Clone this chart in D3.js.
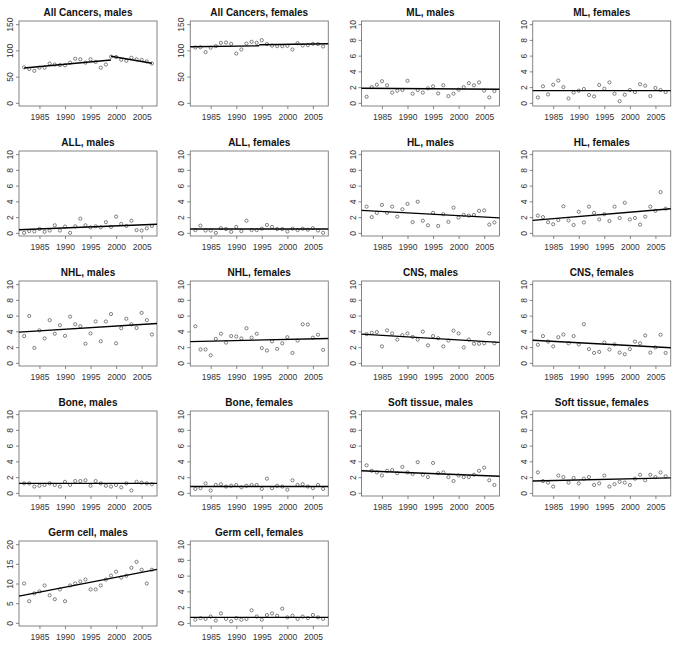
<!DOCTYPE html>
<html>
<head>
  <script src="https://cdnjs.cloudflare.com/ajax/libs/d3/7.8.5/d3.min.js"></script>
  <style>
    body { margin: 0; background: #fff; }
    svg { font-family: "Liberation Sans", Arial, sans-serif; }
    .title { font-size: 10px; font-weight: bold; text-anchor: middle; fill: #111; }
    .tick text { font-size: 8.5px; fill: #333; }
    .tick line { stroke: #555; stroke-width: 0.7; }
    .frame { fill: none; stroke: #666; stroke-width: 0.8; }
    .pt { fill: none; stroke: #333; stroke-width: 0.6; }
    .fit { stroke: #000; stroke-width: 1.4; fill: none; }
  </style>
</head>
<body>
  <div id="chart"></div>

  <script>
    // Years on the x axis
    const years = [1982, 1983, 1984, 1985, 1986, 1987, 1988, 1989, 1990, 1991, 1992, 1993, 1994,
                   1995, 1996, 1997, 1998, 1999, 2000, 2001, 2002, 2003, 2004, 2005, 2006, 2007];
    const xTicks = [1985, 1990, 1995, 2000, 2005];
    const yTicks150 = [0, 50, 100, 150];
    const yTicks10 = [0, 2, 4, 6, 8, 10];
    const yTicks20 = [0, 5, 10, 15, 20];

    // Rates per year
    const allCancersMales = [67.6, 64.5, 61, 67, 67, 75, 73, 72, 71.5, 76.6, 84, 83, 76.6,
                             83, 78, 67, 73, 88, 87.4, 82, 80, 86, 83, 82, 79, 75];
    const allCancersFemales = [105.5, 106, 96.6, 105, 108, 114.4, 115, 112.5, 94, 101.7, 113, 116.3, 114.4,
                               119.5, 112, 109, 108, 108, 108.7, 101.7, 113.8, 109.3, 110, 112.5, 112, 107.4];
    const mlMales = [0.77, 2.0, 2.3, 2.75, 2.23, 1.3, 1.55, 1.63, 2.8, 1.16, 1.63, 1.3, 1.85,
                     2.1, 1.2, 2.23, 0.86, 1.16, 1.67, 2.0, 2.5, 2.23, 2.6, 1.55, 0.69, 1.5];
    const mlFemales = [0.69, 2.1, 1.07, 2.3, 2.83, 2.0, 0.56, 1.3, 1.55, 1.76, 1.0, 0.82, 2.27,
                       1.8, 2.6, 1.16, 0.21, 1.03, 1.63, 1.37, 2.36, 2.19, 0.86, 1.9, 1.63, 1.37];
    const allMales = [0, 0.22, 0.18, 0.5, 0.13, 0.3, 0.96, 0.3, 0.8, 0, 0.83, 1.8, 0.96,
                      0.7, 0.83, 0.7, 1.36, 0.75, 2.06, 1.14, 0.88, 1.54, 0.35, 0.3, 0.57, 0.88];
    const allFemales = [0.35, 0.92, 0.3, 0.3, 0, 0.6, 0.48, 0.13, 0.75, 0.22, 1.54, 0.35, 0.35,
                        0.53, 1.0, 0.75, 0.48, 0.48, 0.18, 0.53, 0.35, 0.53, 0.4, 0.6, 0.3, 0];
    const hlMales = [3.33, 2.0, 2.54, 3.55, 2.54, 3.33, 2.06, 3.0, 3.68, 1.36, 3.95, 1.54, 0.96,
                     2.54, 0.88, 2.37, 1.4, 3.2, 1.93, 2.28, 2.19, 2.28, 2.8, 2.85, 1.05, 1.32];
    const hlFemales = [2.19, 2.0, 1.36, 1.1, 1.62, 3.38, 1.58, 1.0, 2.68, 1.32, 3.33, 2.54, 1.7,
                       2.37, 1.5, 3.33, 1.89, 3.82, 1.7, 1.89, 1.05, 2.06, 3.33, 2.8, 5.18, 3.07];
    const nhlMales = [3.4, 5.96, 1.9, 4.13, 3.1, 5.43, 3.7, 4.78, 3.43, 5.87, 4.9, 4.65, 2.43,
                      3.74, 5.26, 2.74, 5.26, 6.2, 2.48, 4.4, 5.6, 4.9, 4.43, 6.35, 5.43, 3.6];
    const nhlFemales = [4.65, 1.7, 1.7, 0.96, 3.04, 3.7, 2.57, 3.4, 3.35, 3.1, 4.4, 3.2, 3.7,
                        1.87, 1.57, 2.74, 1.78, 2.48, 3.26, 1.26, 2.83, 4.9, 4.87, 3.2, 3.57, 1.65];
    const cnsMales = [3.65, 3.83, 3.91, 2.09, 4.13, 3.74, 2.96, 3.52, 3.74, 3.3, 2.96, 3.96, 2.22,
                      3.4, 3.13, 2.09, 2.83, 4.09, 3.74, 1.96, 2.96, 2.43, 2.43, 2.48, 3.74, 2.48];
    const cnsFemales = [2.3, 3.4, 2.7, 2.09, 3.26, 3.6, 2.48, 3.4, 2.35, 4.9, 1.74, 1.26, 1.39,
                        2.57, 1.7, 2.35, 1.3, 1.09, 1.74, 2.7, 2.48, 3.48, 1.3, 1.96, 3.57, 1.26];
    const boneMales = [1.2, 1.2, 0.8, 0.9, 1.0, 1.2, 1.0, 0.8, 1.4, 1.0, 1.5, 1.5, 1.6,
                       0.9, 1.5, 1.2, 0.9, 0.8, 1.0, 0.7, 1.2, 0.3, 1.4, 1.3, 1.2, 1.1];
    const boneFemales = [0.5, 0.6, 1.2, 0.3, 1.0, 1.1, 0.8, 0.9, 1.0, 0.7, 0.9, 1.0, 1.0,
                         0.5, 1.8, 0.6, 0.9, 0.8, 0.4, 1.6, 1.0, 1.1, 0.8, 0.6, 1.0, 0.5];
    const softMales = [3.5, 2.8, 2.6, 2.2, 2.8, 2.9, 2.5, 3.3, 2.6, 2.4, 3.9, 2.3, 2.0,
                       3.8, 2.5, 2.6, 2.0, 1.5, 2.2, 2.0, 2.0, 2.3, 2.8, 3.2, 1.6, 1.0];
    const softFemales = [2.6, 1.5, 1.3, 0.8, 2.2, 2.0, 1.3, 1.9, 1.2, 1.8, 2.0, 1.0, 1.2,
                         2.2, 0.8, 1.1, 1.4, 1.3, 1.0, 1.8, 2.3, 1.6, 2.3, 2.0, 2.6, 2.1];
    const germMales = [10, 5.5, 7.5, 8, 9.5, 7, 6, 8.5, 5.5, 9.5, 10, 10.5, 11,
                       8.5, 8.5, 9.5, 11, 12, 13, 11.5, 12, 14, 15.5, 13.5, 10, 13.5];
    const germFemales = [0.4, 0.6, 0.5, 0.8, 0.3, 1.2, 0.5, 0.2, 0.6, 0.4, 0.5, 1.6, 0.8,
                         0.4, 1.0, 1.2, 0.9, 1.8, 0.7, 0.9, 0.5, 0.8, 0.6, 1.0, 0.7, 0.5];

    // Fitted trend segments: [year0, value0, year1, value1]
    const allCancersMalesFit = [[1982, 66.4, 1999, 81.7], [1999, 88.7, 2007, 75.5]];
    const allCancersFemalesFit = [[1981, 106.8, 1994.5, 108.7], [1994.5, 110.6, 2008, 112.5]];
    const mlMalesFit = [[1981, 1.85, 2008, 1.72]];
    const mlFemalesFit = [[1981, 1.55, 2008, 1.55]];
    const allMalesFit = [[1981, 0.4, 2008, 1.1]];
    const allFemalesFit = [[1981, 0.48, 2008, 0.48]];
    const hlMalesFit = [[1981, 2.85, 2008, 1.9]];
    const hlFemalesFit = [[1981, 1.58, 2008, 3.07]];
    const nhlMalesFit = [[1981, 3.9, 2008, 5.0]];
    const nhlFemalesFit = [[1981, 2.7, 2008, 3.1]];
    const cnsMalesFit = [[1981, 3.65, 2008, 2.6]];
    const cnsFemalesFit = [[1981, 2.87, 2008, 1.91]];
    const boneMalesFit = [[1981, 1.2, 2008, 1.2]];
    const boneFemalesFit = [[1981, 0.8, 2008, 0.8]];
    const softMalesFit = [[1981, 2.8, 2008, 2.1]];
    const softFemalesFit = [[1981, 1.5, 2008, 1.9]];
    const germMalesFit = [[1981, 6.8, 2008, 13.6]];
    const germFemalesFit = [[1981, 0.7, 2008, 0.7]];

    const panels = [
      {title: "All Cancers, males", values: allCancersMales, fit: allCancersMalesFit, ticks: yTicks150},
      {title: "All Cancers, females", values: allCancersFemales, fit: allCancersFemalesFit, ticks: yTicks150},
      {title: "ML, males", values: mlMales, fit: mlMalesFit, ticks: yTicks10},
      {title: "ML, females", values: mlFemales, fit: mlFemalesFit, ticks: yTicks10},
      {title: "ALL, males", values: allMales, fit: allMalesFit, ticks: yTicks10},
      {title: "ALL, females", values: allFemales, fit: allFemalesFit, ticks: yTicks10},
      {title: "HL, males", values: hlMales, fit: hlMalesFit, ticks: yTicks10},
      {title: "HL, females", values: hlFemales, fit: hlFemalesFit, ticks: yTicks10},
      {title: "NHL, males", values: nhlMales, fit: nhlMalesFit, ticks: yTicks10},
      {title: "NHL, females", values: nhlFemales, fit: nhlFemalesFit, ticks: yTicks10},
      {title: "CNS, males", values: cnsMales, fit: cnsMalesFit, ticks: yTicks10},
      {title: "CNS, females", values: cnsFemales, fit: cnsFemalesFit, ticks: yTicks10},
      {title: "Bone, males", values: boneMales, fit: boneMalesFit, ticks: yTicks10},
      {title: "Bone, females", values: boneFemales, fit: boneFemalesFit, ticks: yTicks10},
      {title: "Soft tissue, males", values: softMales, fit: softMalesFit, ticks: yTicks10},
      {title: "Soft tissue, females", values: softFemales, fit: softFemalesFit, ticks: yTicks10},
      {title: "Germ cell, males", values: germMales, fit: germMalesFit, ticks: yTicks20},
      {title: "Germ cell, females", values: germFemales, fit: germFemalesFit, ticks: yTicks10}
    ];

    // Layout of the grid
    const colStep = 171.25, rowStep = 130;
    const box = {left: 19, right: 157, top: 21, bottom: 106};

    const svg = d3.select("#chart")
      .append("svg")
        .attr("width", 685)
        .attr("height", 667);

    panels.forEach((p, i) => {
      const col = i % 4, row = Math.floor(i / 4);
      const g = svg.append("g")
        .attr("transform", `translate(${col * colStep},${row * rowStep})`);

      // R style 4% range extension
      const x = d3.scaleLinear().domain([1981, 2008]).range([box.left, box.right]);
      const yMax = p.ticks[p.ticks.length - 1];
      const y = d3.scaleLinear().domain([-0.04 * yMax, 1.04 * yMax]).range([box.bottom, box.top]);

      g.append("text")
        .attr("class", "title")
        .attr("x", (box.left + box.right) / 2)
        .attr("y", 16)
        .text(p.title);

      // x axis
      const xa = g.append("g")
        .attr("transform", `translate(0,${box.bottom})`)
        .call(d3.axisBottom(x).tickValues(xTicks).tickSize(3).tickPadding(4.5).tickFormat(d3.format("d")));
      xa.select(".domain").remove();

      // y axis with rotated labels
      const ya = g.append("g")
        .attr("transform", `translate(${box.left},0)`)
        .call(d3.axisLeft(y).tickValues(p.ticks).tickSize(3));
      ya.select(".domain").remove();
      ya.selectAll(".tick text")
        .attr("transform", "rotate(-90)")
        .attr("x", 0)
        .attr("y", -6)
        .attr("dy", 0)
        .style("text-anchor", "middle");

      g.append("rect")
        .attr("class", "frame")
        .attr("x", box.left)
        .attr("y", box.top)
        .attr("width", box.right - box.left)
        .attr("height", box.bottom - box.top);

      g.selectAll(".pt")
        .data(p.values)
        .join("circle")
        .attr("class", "pt")
        .attr("cx", (d, j) => x(years[j]))
        .attr("cy", d => y(d))
        .attr("r", 1.6);

      g.selectAll(".fit")
        .data(p.fit)
        .join("line")
        .attr("class", "fit")
        .attr("x1", d => x(d[0]))
        .attr("y1", d => y(d[1]))
        .attr("x2", d => x(d[2]))
        .attr("y2", d => y(d[3]));
    });
  </script>
</body>
</html>
